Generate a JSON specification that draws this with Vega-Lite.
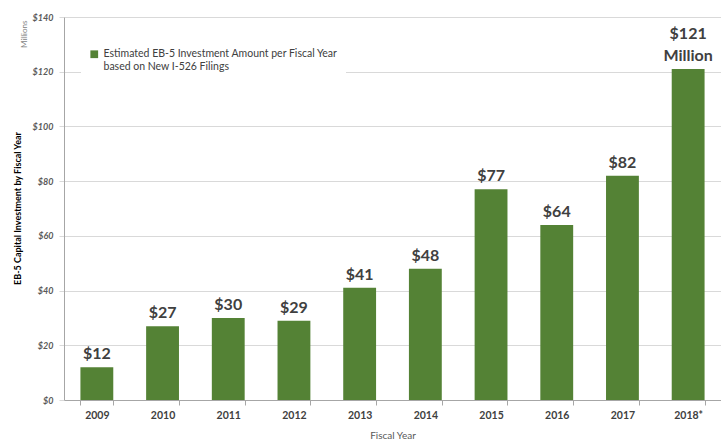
{
  "$schema": "https://vega.github.io/schema/vega-lite/v6.json",
  "autosize": {"type": "none"},
  "width": 657,
  "height": 383,
  "padding": {"left": 64, "top": 17, "right": 0, "bottom": 40},
  "background": "white",
  "config": {
    "font": "Lato",
    "view": {"stroke": null}
  },
  "title": {
    "text": "EB-5 Capital Investment by Fiscal Year",
    "orient": "left",
    "anchor": "middle",
    "fontSize": 9,
    "fontWeight": "bold",
    "color": "#000000",
    "offset": -3
  },
  "data": {
    "values": [
      {"year": "2009", "amount": 12, "label": "$12", "note": ""},
      {"year": "2010", "amount": 27, "label": "$27", "note": ""},
      {"year": "2011", "amount": 30, "label": "$30", "note": ""},
      {"year": "2012", "amount": 29, "label": "$29", "note": ""},
      {"year": "2013", "amount": 41, "label": "$41", "note": ""},
      {"year": "2014", "amount": 48, "label": "$48", "note": ""},
      {"year": "2015", "amount": 77, "label": "$77", "note": ""},
      {"year": "2016", "amount": 64, "label": "$64", "note": ""},
      {"year": "2017", "amount": 82, "label": "$82", "note": ""},
      {"year": "2018*", "amount": 121, "label": "$121", "note": "Million"}
    ]
  },
  "encoding": {
    "x": {
      "field": "year",
      "type": "nominal",
      "sort": null,
      "scale": {"paddingInner": 0.5, "paddingOuter": 0.25},
      "axis": {
        "title": "Fiscal Year",
        "titleFontSize": 10,
        "titleFontWeight": "normal",
        "titleColor": "#595959",
        "titlePadding": 10,
        "labelAngle": 0,
        "labelFontSize": 10.5,
        "labelFontWeight": "bold",
        "labelColor": "#404040",
        "labelPadding": 5,
        "domainColor": "#a6a6a6",
        "tickColor": "#a6a6a6",
        "tickBand": "extent",
        "tickSize": 5
      }
    },
    "y": {
      "field": "amount",
      "type": "quantitative",
      "scale": {"domain": [0, 140]},
      "axis": {
        "values": [0, 20, 40, 60, 80, 100, 120, 140],
        "labelExpr": "'$' + datum.value",
        "labelFontSize": 9,
        "labelFontStyle": "italic",
        "labelFontWeight": "bold",
        "labelColor": "#595959",
        "labelPadding": 6,
        "gridColor": "#d9d9d9",
        "domainColor": "#a6a6a6",
        "tickColor": "#d9d9d9",
        "tickSize": 5,
        "title": "Millions",
        "titleFontSize": 8,
        "titleFontWeight": "normal",
        "titleColor": "#7f7f7f",
        "titleAlign": "right",
        "titleAngle": 270,
        "titleX": -36,
        "titleY": 3
      }
    }
  },
  "layer": [
    {
      "mark": {"type": "bar"},
      "encoding": {
        "color": {
          "datum": "Estimated EB-5 Investment Amount per Fiscal Year",
          "type": "nominal",
          "scale": {"range": ["#548235"]},
          "legend": {
            "title": null,
            "orient": "none",
            "legendX": 17,
            "legendY": 24,
            "fillColor": "white",
            "padding": 8,
            "symbolType": "square",
            "symbolSize": 60,
            "symbolStrokeWidth": 0,
            "labelFontSize": 10.5,
            "labelColor": "#404040",
            "labelLimit": 400,
            "labelExpr": "['Estimated EB-5 Investment Amount per Fiscal Year', 'based on New I-526 Filings']"
          }
        }
      }
    },
    {
      "transform": [{"filter": "datum.note == ''"}],
      "mark": {
        "type": "text",
        "baseline": "bottom",
        "dy": -5,
        "fontSize": 16,
        "fontWeight": "bold",
        "color": "#404040"
      },
      "encoding": {"text": {"field": "label", "type": "nominal"}}
    },
    {
      "transform": [{"filter": "datum.note != ''"}],
      "mark": {
        "type": "text",
        "baseline": "bottom",
        "dy": -27,
        "fontSize": 16,
        "fontWeight": "bold",
        "color": "#404040"
      },
      "encoding": {"text": {"field": "label", "type": "nominal"}}
    },
    {
      "transform": [{"filter": "datum.note != ''"}],
      "mark": {
        "type": "text",
        "baseline": "bottom",
        "dy": -5,
        "fontSize": 16,
        "fontWeight": "bold",
        "color": "#404040"
      },
      "encoding": {"text": {"field": "note", "type": "nominal"}}
    }
  ]
}
